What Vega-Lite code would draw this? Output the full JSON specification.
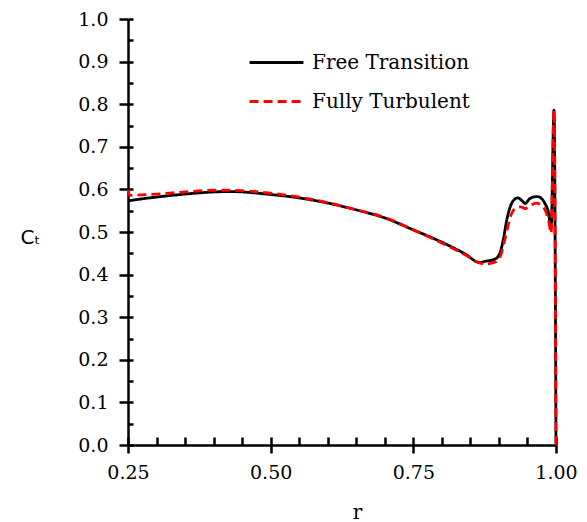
{
  "$schema": "https://vega.github.io/schema/vega-lite/v6.json",
  "width": 428,
  "height": 426,
  "autosize": {"type": "none"},
  "padding": {"left": 128, "top": 19, "right": 31, "bottom": 77},
  "config": {"view": {"stroke": null}, "background": "white"},
  "data": {"values": [
    {"r": 0.25, "Ct": 0.573, "s": "Free Transition"},
    {"r": 0.27, "Ct": 0.577, "s": "Free Transition"},
    {"r": 0.30, "Ct": 0.582, "s": "Free Transition"},
    {"r": 0.35, "Ct": 0.589, "s": "Free Transition"},
    {"r": 0.40, "Ct": 0.594, "s": "Free Transition"},
    {"r": 0.43, "Ct": 0.595, "s": "Free Transition"},
    {"r": 0.45, "Ct": 0.594, "s": "Free Transition"},
    {"r": 0.50, "Ct": 0.588, "s": "Free Transition"},
    {"r": 0.55, "Ct": 0.580, "s": "Free Transition"},
    {"r": 0.60, "Ct": 0.568, "s": "Free Transition"},
    {"r": 0.65, "Ct": 0.552, "s": "Free Transition"},
    {"r": 0.70, "Ct": 0.533, "s": "Free Transition"},
    {"r": 0.75, "Ct": 0.505, "s": "Free Transition"},
    {"r": 0.80, "Ct": 0.476, "s": "Free Transition"},
    {"r": 0.84, "Ct": 0.449, "s": "Free Transition"},
    {"r": 0.867, "Ct": 0.428, "s": "Free Transition"},
    {"r": 0.875, "Ct": 0.431, "s": "Free Transition"},
    {"r": 0.89, "Ct": 0.435, "s": "Free Transition"},
    {"r": 0.897, "Ct": 0.440, "s": "Free Transition"},
    {"r": 0.903, "Ct": 0.455, "s": "Free Transition"},
    {"r": 0.908, "Ct": 0.485, "s": "Free Transition"},
    {"r": 0.914, "Ct": 0.530, "s": "Free Transition"},
    {"r": 0.920, "Ct": 0.560, "s": "Free Transition"},
    {"r": 0.926, "Ct": 0.575, "s": "Free Transition"},
    {"r": 0.933, "Ct": 0.580, "s": "Free Transition"},
    {"r": 0.940, "Ct": 0.574, "s": "Free Transition"},
    {"r": 0.946, "Ct": 0.567, "s": "Free Transition"},
    {"r": 0.953, "Ct": 0.577, "s": "Free Transition"},
    {"r": 0.960, "Ct": 0.582, "s": "Free Transition"},
    {"r": 0.968, "Ct": 0.583, "s": "Free Transition"},
    {"r": 0.975, "Ct": 0.578, "s": "Free Transition"},
    {"r": 0.981, "Ct": 0.566, "s": "Free Transition"},
    {"r": 0.986, "Ct": 0.550, "s": "Free Transition"},
    {"r": 0.9915, "Ct": 0.510, "s": "Free Transition"},
    {"r": 0.9965, "Ct": 0.786, "s": "Free Transition"},
    {"r": 1.0, "Ct": 0.0, "s": "Free Transition"},
    {"r": 0.25, "Ct": 0.600, "s": "Fully Turbulent"},
    {"r": 0.253, "Ct": 0.586, "s": "Fully Turbulent"},
    {"r": 0.27, "Ct": 0.587, "s": "Fully Turbulent"},
    {"r": 0.30, "Ct": 0.589, "s": "Fully Turbulent"},
    {"r": 0.35, "Ct": 0.594, "s": "Fully Turbulent"},
    {"r": 0.40, "Ct": 0.598, "s": "Fully Turbulent"},
    {"r": 0.43, "Ct": 0.598, "s": "Fully Turbulent"},
    {"r": 0.45, "Ct": 0.597, "s": "Fully Turbulent"},
    {"r": 0.50, "Ct": 0.591, "s": "Fully Turbulent"},
    {"r": 0.55, "Ct": 0.582, "s": "Fully Turbulent"},
    {"r": 0.60, "Ct": 0.569, "s": "Fully Turbulent"},
    {"r": 0.65, "Ct": 0.552, "s": "Fully Turbulent"},
    {"r": 0.70, "Ct": 0.534, "s": "Fully Turbulent"},
    {"r": 0.75, "Ct": 0.505, "s": "Fully Turbulent"},
    {"r": 0.80, "Ct": 0.474, "s": "Fully Turbulent"},
    {"r": 0.84, "Ct": 0.447, "s": "Fully Turbulent"},
    {"r": 0.867, "Ct": 0.427, "s": "Fully Turbulent"},
    {"r": 0.875, "Ct": 0.425, "s": "Fully Turbulent"},
    {"r": 0.89, "Ct": 0.428, "s": "Fully Turbulent"},
    {"r": 0.897, "Ct": 0.432, "s": "Fully Turbulent"},
    {"r": 0.903, "Ct": 0.445, "s": "Fully Turbulent"},
    {"r": 0.910, "Ct": 0.480, "s": "Fully Turbulent"},
    {"r": 0.916, "Ct": 0.515, "s": "Fully Turbulent"},
    {"r": 0.922, "Ct": 0.543, "s": "Fully Turbulent"},
    {"r": 0.930, "Ct": 0.556, "s": "Fully Turbulent"},
    {"r": 0.938, "Ct": 0.559, "s": "Fully Turbulent"},
    {"r": 0.946, "Ct": 0.555, "s": "Fully Turbulent"},
    {"r": 0.955, "Ct": 0.562, "s": "Fully Turbulent"},
    {"r": 0.965, "Ct": 0.568, "s": "Fully Turbulent"},
    {"r": 0.975, "Ct": 0.562, "s": "Fully Turbulent"},
    {"r": 0.983, "Ct": 0.545, "s": "Fully Turbulent"},
    {"r": 0.988, "Ct": 0.520, "s": "Fully Turbulent"},
    {"r": 0.9915, "Ct": 0.497, "s": "Fully Turbulent"},
    {"r": 0.9965, "Ct": 0.786, "s": "Fully Turbulent"},
    {"r": 1.0, "Ct": 0.0, "s": "Fully Turbulent"}
  ]},
  "resolve": {"scale": {"x": "shared", "y": "shared"}, "axis": {"x": "independent", "y": "independent"}},
  "layer": [
    {
      "mark": {"type": "line", "opacity": 0},
      "encoding": {
        "x": {"field": "r", "type": "quantitative", "scale": {"domain": [0.25, 1.0], "nice": false, "zero": false},
          "axis": {"orient": "bottom", "values": [0.25,0.3,0.35,0.4,0.45,0.5,0.55,0.6,0.65,0.7,0.75,0.8,0.85,0.9,0.95,1.0],
            "labels": false, "domain": false, "grid": false, "title": null, "tickSize": -8, "tickWidth": 2.5, "tickColor": "#000"}},
        "y": {"field": "Ct", "type": "quantitative", "scale": {"domain": [0, 1], "nice": false},
          "axis": {"orient": "left", "values": [0,0.05,0.1,0.15,0.2,0.25,0.3,0.35,0.4,0.45,0.5,0.55,0.6,0.65,0.7,0.75,0.8,0.85,0.9,0.95,1.0],
            "labels": false, "domain": false, "grid": false, "title": null, "tickSize": -5, "tickWidth": 2.5, "tickColor": "#000"}},
        "detail": {"field": "s"}
      }
    },
    {
      "mark": {"type": "line", "strokeWidth": 2.8, "interpolate": "monotone"},
      "encoding": {
        "x": {"field": "r", "type": "quantitative", "scale": {"domain": [0.25, 1.0], "nice": false, "zero": false},
          "axis": {"orient": "bottom", "values": [0.25,0.5,0.75,1.0],
            "format": ".2f", "labelFlush": false, "labelOverlap": false,
            "tickSize": 8,
            "grid": false, "domainColor": "#000", "domainWidth": 2.5, "tickColor": "#000", "tickWidth": 2.5,
            "labelFont": "DejaVu Serif", "labelFontSize": 19, "labelColor": "#000", "labelPadding": 10,
            "title": "r", "titleFont": "DejaVu Serif", "titleFontSize": 20, "titleFontWeight": "normal", "titleColor": "#000",
            "titleX": 229, "titleY": 73, "titleBaseline": "alphabetic", "titleAnchor": null}},
        "y": {"field": "Ct", "type": "quantitative", "scale": {"domain": [0, 1], "nice": false},
          "axis": {"orient": "left", "values": [0,0.1,0.2,0.3,0.4,0.5,0.6,0.7,0.8,0.9,1.0],
            "format": ".1f", "labelFlush": false, "labelOverlap": false,
            "tickSize": 9,
            "grid": false, "domainColor": "#000", "domainWidth": 2.5, "tickColor": "#000", "tickWidth": 2.5,
            "labelFont": "DejaVu Serif", "labelFontSize": 19, "labelColor": "#000", "labelPadding": 11,
            "title": "Cₜ", "titleFont": "DejaVu Sans", "titleFontSize": 20, "titleFontWeight": "normal", "titleColor": "#000",
            "titleAngle": 0, "titleX": -98, "titleY": 218, "titleAlign": "center", "titleBaseline": "middle", "titleAnchor": null}},
        "color": {"field": "s", "type": "nominal",
          "scale": {"domain": ["Free Transition", "Fully Turbulent"], "range": ["#000000", "#ff0000"]},
          "legend": {"orient": "none", "legendX": 120, "legendY": 15, "title": null,
            "symbolType": "stroke", "symbolSize": 2900, "symbolStrokeWidth": 3,
            "labelFont": "DejaVu Serif", "labelFontSize": 20, "labelColor": "#000", "labelOffset": 7,
            "rowPadding": -16}},
        "strokeDash": {"field": "s", "type": "nominal",
          "scale": {"domain": ["Free Transition", "Fully Turbulent"], "range": [[1, 0], [9, 5]]},
          "legend": null}
      }
    }
  ]
}
